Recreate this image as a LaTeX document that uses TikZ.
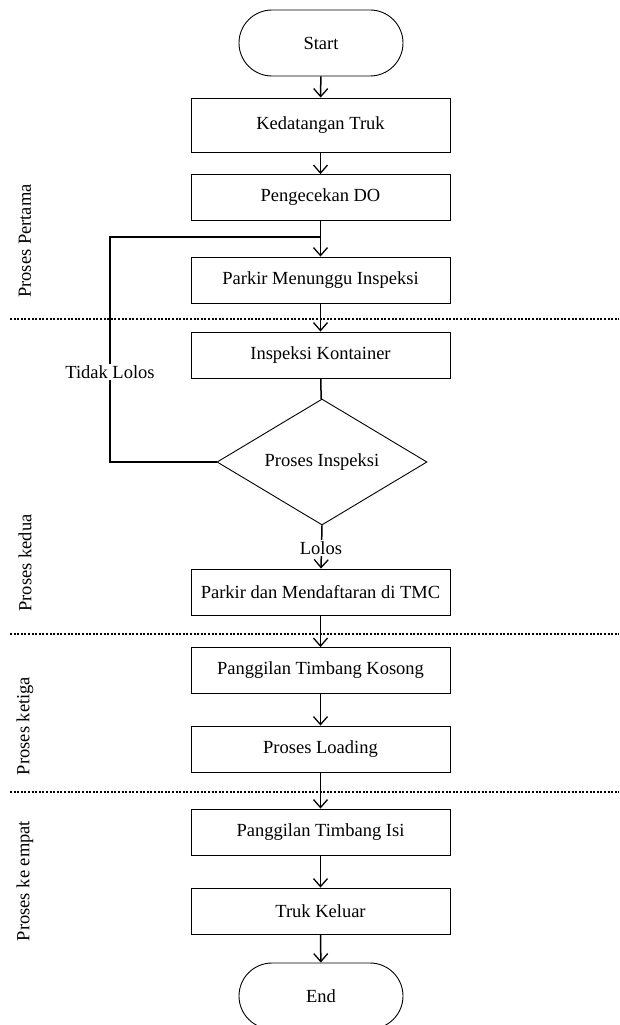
\documentclass[tikz,border=0pt]{standalone}
\usepackage{fontspec}
\setmainfont{Liberation Serif}
\usetikzlibrary{shapes.geometric,arrows.meta}
\begin{document}
\begin{tikzpicture}[x=1pt,y=-1pt,
  every node/.style={font=\fontsize{18.5}{22}\selectfont},
  procbox/.style={draw,line width=0.9pt,minimum width=259pt,minimum height=46pt,inner sep=2pt},
  termbox/.style={draw,line width=0.9pt,rounded corners=33pt,minimum width=164pt,minimum height=66pt},
  decbox/.style={draw,diamond,line width=0.9pt,minimum width=210pt,minimum height=126pt,aspect=1.667,inner sep=0pt},
  conn/.style={line width=1.5pt,-{Straight Barb[length=8pt,width=14pt,line width=1.3pt]}},
  plain/.style={line width=1.5pt},
  sep/.style={line width=1.2pt,dash pattern=on 2pt off 1.6pt},
  side/.style={rotate=90},
  lab/.style={fill=white,inner sep=1pt}]
\useasboundingbox (0,0) rectangle (619,1025);
\clip (0,0) rectangle (619,1025);
% nodes
\node[termbox] (start) at (321,43) {Start};
\node[procbox,minimum height=54pt] (kt) at (320.5,125) {Kedatangan Truk};
\node[procbox] (do) at (320.5,197.5) {Pengecekan DO};
\node[procbox] (pmi) at (320.5,280) {Parkir Menunggu Inspeksi};
\node[procbox] (ik) at (320.5,355) {Inspeksi Kontainer};
\node[decbox] (pi) at (322,462) {Proses Inspeksi};
\node[procbox] (tmc) at (320.5,592) {Parkir dan Mendaftaran di TMC};
\node[procbox] (ptk) at (320.5,670.5) {Panggilan Timbang Kosong};
\node[procbox] (pl) at (320.5,749) {Proses Loading};
\node[procbox] (pti) at (320.5,832) {Panggilan Timbang Isi};
\node[procbox] (tk) at (320.5,911) {Truk Keluar};
\node[termbox] (end) at (321,996) {End};
% separators
\coordinate (s1a) at (10,319); \coordinate (s1b) at (619,319);
\coordinate (s2a) at (10,634); \coordinate (s2b) at (619,634);
\coordinate (s3a) at (10,792); \coordinate (s3b) at (619,792);
\draw[sep] (s1a) -- (s1b);
\draw[sep] (s2a) -- (s2b);
\draw[sep] (s3a) -- (s3b);
% side labels
\node[side] (l1) at (25,241) {Proses Pertama};
\node[side] (l2) at (25,563) {Proses kedua};
\node[side] (l3) at (25,726) {Proses ketiga};
\node[side] (l4) at (25,881) {Proses ke empat};
% connectors
\draw[conn] (start) -- (kt);
\draw[conn] (kt) -- (do);
\draw[conn] (do) -- (pmi);
\draw[conn] (pmi) -- (ik);
\draw[plain] (ik) -- (pi);
\coordinate (fbl) at (110,237);
\coordinate (fbr) at (321,237);
\draw[plain] (pi.west) -| (fbl) -- (fbr);
\node[lab] (tl) at (110,372) {Tidak Lolos};
\draw[conn] (pi.south) -- (tmc);
\node[lab] (lolos) at (321,548) {Lolos};
\draw[conn] (tmc) -- (ptk);
\draw[conn] (ptk) -- (pl);
\draw[conn] (pl) -- (pti);
\draw[conn] (pti) -- (tk);
\draw[conn] (tk) -- (end);
\end{tikzpicture}
\end{document}
